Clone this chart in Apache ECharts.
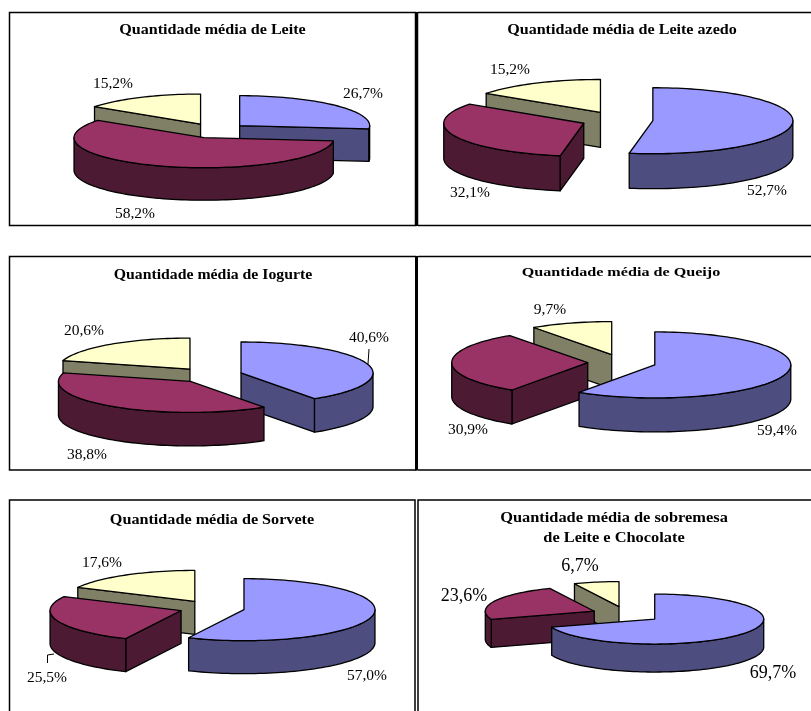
<!DOCTYPE html>
<html>
<head>
<meta charset="utf-8">
<style>
  html, body { margin: 0; padding: 0; background: #fff; }
  #chart { width: 811px; height: 711px; }
</style>
<script src="https://cdn.jsdelivr.net/npm/echarts@6/dist/echarts.min.js"></script>
</head>
<body>
<div id="chart"></div>
<script>
// Share of each answer per dairy product, in percent (slices run clockwise from 12 o'clock)
const leite = [26.7, 58.2, 15.2];
const leiteAzedo = [52.7, 32.1, 15.2];
const iogurte = [40.6, 38.8, 20.6];
const queijo = [59.4, 30.9, 9.7];
const sorvete = [57.0, 25.5, 17.6];
const sobremesa = [69.7, 23.6, 6.7];

const titles = [
  'Quantidade média de Leite',
  'Quantidade média de Leite azedo',
  'Quantidade média de Iogurte',
  'Quantidade média de Queijo',
  'Quantidade média de Sorvete',
  'Quantidade média de sobremesa\nde Leite e Chocolate'
];

// Top face and wall colours, one pair per slice
const topColors = ['#9999FF', '#993366', '#FFFFCC'];
const wallColors = ['#4D4D80', '#4D1A33', '#808066'];

// Placement of each projected pie: centre, ellipse radii, wall height, explosion factor
const panels = [
  { values: leite, cx: 215.5, cy: 130.7, rx: 130, ry: 30, depth: 32.5, explode: 0.25,
    titleAt: [212.5, 30.5], titleSize: 14, titleStretch: 1.15, labelSize: 15.5,
    labelAt: [[363, 94], [135, 214], [113, 84]] },
  { values: leiteAzedo, cx: 617, cy: 120, rx: 140, ry: 33, depth: 35, explode: 0.257,
    titleAt: [622, 30.5], titleSize: 14, titleStretch: 1.149, labelSize: 15.5,
    labelAt: [[767, 191], [470, 193], [510, 70]] },
  { values: iogurte, cx: 209.7, cy: 375.2, rx: 132, ry: 31, depth: 33.5, explode: 0.248,
    titleAt: [213, 275], titleSize: 14, titleStretch: 1.127, labelSize: 15.5,
    labelAt: [[369, 338], [87, 455], [84, 331]] },
  { values: queijo, cx: 622, cy: 362.5, rx: 136, ry: 33, depth: 34, explode: 0.252,
    titleAt: [621, 273], titleSize: 12.5, titleStretch: 1.29, labelSize: 15.5,
    labelAt: [[777, 431], [468, 430], [550, 310]] },
  { values: sorvete, cx: 212, cy: 608, rx: 131, ry: 31, depth: 33, explode: 0.25,
    titleAt: [212, 520], titleSize: 14, titleStretch: 1.155, labelSize: 15.5,
    labelAt: [[367, 676], [47, 678], [102, 563]] },
  { values: sobremesa, cx: 626.3, cy: 614.4, rx: 109, ry: 25, depth: 28, explode: 0.32,
    titleAt: [614, 528], titleSize: 14, titleStretch: 1.17, labelSize: 18,
    labelAt: [[773, 673], [464, 596], [580, 566]] }
];

const rad = Math.PI / 180;
const formatPct = v => v.toFixed(1).replace('.', ',') + '%';

// Sector geometry of one pie, derived from its values
function sectors(values) {
  const total = values.reduce((a, b) => a + b, 0);
  let acc = 0;
  return values.map(v => {
    const start = acc / total * 360;
    acc += v;
    return { start, end: acc / total * 360, mid: (start + acc / total * 360) / 2 };
  });
}

function renderSlice(panel) {
  const geom = sectors(panel.values);
  // Slices nearer the viewer are painted later
  const order = geom.map((g, i) => [i, -Math.cos(g.mid * rad)]).sort((a, b) => a[1] - b[1]).map(o => o[0]);
  return function (params, api) {
    const i = params.dataIndex;
    const value = api.value(0);
    const g = geom[i];
    const rank = order.indexOf(i) * 10;
    const ax = panel.cx + panel.explode * panel.rx * Math.sin(g.mid * rad);
    const ay = panel.cy - panel.explode * panel.ry * Math.cos(g.mid * rad);
    const rim = a => [ax + panel.rx * Math.sin(a * rad), ay - panel.ry * Math.cos(a * rad)];
    const down = p => [p[0], p[1] + panel.depth];
    const arc = (from, to) => {
      const pts = [];
      const n = Math.max(2, Math.ceil((to - from) / 2));
      for (let k = 0; k <= n; k++) pts.push(rim(from + (to - from) * k / n));
      return pts;
    };
    const face = (points, fill, z) => ({
      type: 'polygon',
      shape: { points },
      z2: rank + z,
      style: { fill, stroke: '#000', lineWidth: 1.3, lineJoin: 'round' }
    });
    const children = [];
    const apex = [ax, ay];
    // Radial cut faces, only those turned towards the viewer
    if (Math.sin(g.start * rad) < -1e-6) {
      const e = rim(g.start);
      children.push(face([apex, e, down(e), down(apex)], wallColors[i], 1));
    }
    if (Math.sin(g.end * rad) > 1e-6) {
      const e = rim(g.end);
      children.push(face([apex, e, down(e), down(apex)], wallColors[i], 1));
    }
    // Curved outer wall along the front half of the ellipse
    const from = Math.max(g.start, 90);
    const to = Math.min(g.end, 270);
    if (to > from) {
      const edge = arc(from, to);
      children.push(face(edge.concat(edge.map(down).reverse()), wallColors[i], 2));
    }
    // Top face
    children.push(face([apex].concat(arc(g.start, g.end)), topColors[i], 3));
    // Percentage label
    const at = panel.labelAt[i];
    children.push({
      type: 'text',
      z2: 100,
      style: {
        x: at[0], y: at[1], text: formatPct(value),
        align: 'center', verticalAlign: 'middle',
        fill: '#000', font: panel.labelSize + 'px "Liberation Serif"'
      }
    });
    return { type: 'group', children };
  };
}

// Panel frames and leader lines
function frameLine(points, lineWidth) {
  return {
    type: 'polyline', silent: true, z: 5,
    shape: { points },
    style: { fill: 'none', stroke: '#000', lineWidth: lineWidth || 1.5 }
  };
}

const frames = [
  frameLine([[416.5, 12.5], [9.5, 12.5], [9.5, 225.5], [416.5, 225.5]]),
  frameLine([[811, 12.5], [418, 12.5]]),
  frameLine([[811, 225.5], [418, 225.5]]),
  frameLine([[416.5, 12], [416.5, 226]], 3.5),
  frameLine([[416.5, 256.5], [9.5, 256.5], [9.5, 470], [416.5, 470]]),
  frameLine([[811, 256.5], [418, 256.5]]),
  frameLine([[811, 470], [418, 470]]),
  frameLine([[416.5, 256], [416.5, 470.5]], 3),
  frameLine([[9.5, 711], [9.5, 500], [415, 500], [415, 711]]),
  frameLine([[418, 711], [418, 500], [811, 500]]),
  frameLine([[369, 349], [368, 364]], 1),
  frameLine([[47.5, 663], [47.5, 655], [54, 654]], 1)
];

// Panel headings, widened horizontally around their centre
const headings = panels.map((p, i) => ({
  type: 'text', silent: true, z: 6,
  x: p.titleAt[0], y: p.titleAt[1], scaleX: p.titleStretch,
  style: {
    text: titles[i],
    align: 'center', verticalAlign: 'middle', lineHeight: 20,
    fill: '#000', font: 'bold ' + p.titleSize + 'px "Liberation Serif"'
  }
}));

const option = {
  animation: false,
  backgroundColor: '#fff',
  graphic: frames.concat(headings),
  series: panels.map(p => ({
    type: 'custom',
    coordinateSystem: 'none',
    silent: true,
    renderItem: renderSlice(p),
    data: p.values.map(v => [v])
  }))
};

echarts.init(document.getElementById('chart')).setOption(option);
</script>
</body>
</html>
